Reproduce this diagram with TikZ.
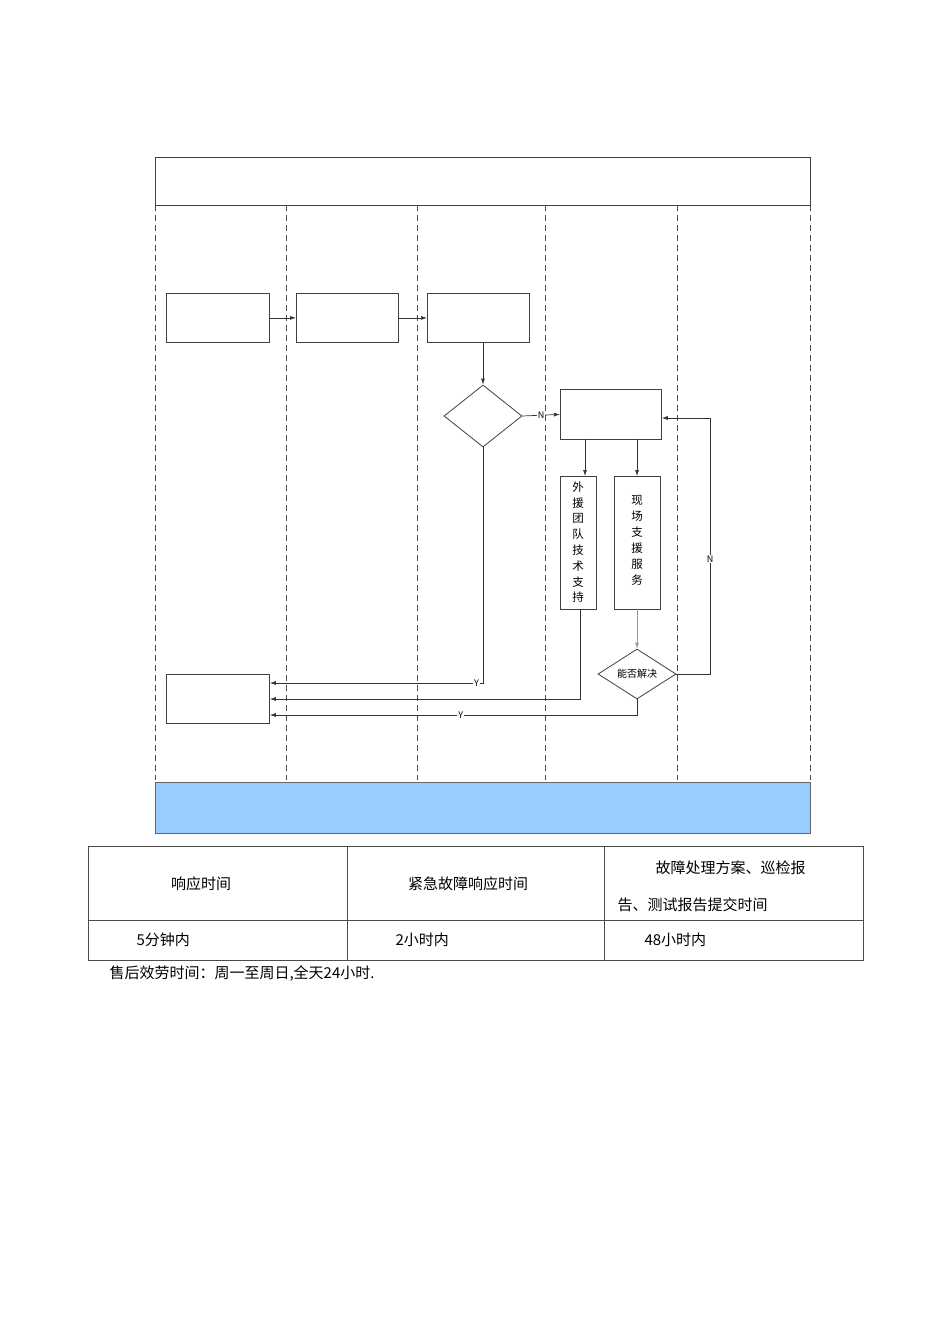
\documentclass[tikz,border=0pt]{standalone}
\usepackage{fontspec}
\setmainfont{Noto Sans CJK SC}
\usetikzlibrary{shapes.geometric,arrows.meta}
\begin{document}
\begin{tikzpicture}[x=1pt,y=-1pt,
  box/.style={draw=black!75,line width=0.8pt,minimum width=#1,inner sep=0pt},
  lane/.style={draw=black!70,dashed,dash pattern=on 6pt off 4pt,line width=0.8pt},
  con/.style={draw=black!80,line width=0.7pt,-{Latex[length=6pt,width=4pt]}},
  lbl/.style={font=\fontsize{9}{10}\selectfont,fill=white,inner sep=1pt},
  txt/.style={font=\fontsize{15}{18}\selectfont}]
\useasboundingbox (0,0) rectangle (950,1344);
\node[draw=black!75,line width=1pt,minimum width=655pt,minimum height=48pt,inner sep=0pt,anchor=north west] (title) at (155,157) {};
\foreach \x in {155,286,417,545,677,810} \draw[lane] (\x,205) -- (\x,780);
\node[draw=black!60,fill={rgb,255:red,153;green,204;blue,255},line width=1pt,minimum width=655pt,minimum height=51pt,inner sep=0pt,anchor=north west] (band) at (155,782) {};
\node[box=103pt,minimum height=49pt,anchor=north west] (a) at (166,293) {};
\node[box=102pt,minimum height=49pt,anchor=north west] (b) at (296,293) {};
\node[box=102pt,minimum height=49pt,anchor=north west] (c) at (427,293) {};
\node[draw=black!75,line width=0.8pt,diamond,minimum width=78pt,minimum height=62pt,inner sep=0pt] (d1) at (483,416) {};
\node[box=101pt,minimum height=50pt,anchor=north west] (e) at (560,389) {};
\node[box=36pt,minimum height=133pt,anchor=north west] (f) at (560,476) {};
\node[font=\fontsize{11.5}{15.8}\selectfont,align=center,anchor=north] at (578,478) {外\\援\\团\\队\\技\\术\\支\\持};
\node[box=46pt,minimum height=133pt,anchor=north west] (g) at (614,476) {};
\node[font=\fontsize{11.5}{16}\selectfont,align=center,anchor=north] at (637,492) {现\\场\\支\\援\\服\\务};
\node[draw=black!75,line width=0.8pt,diamond,minimum width=78pt,minimum height=50pt,inner sep=0pt,font=\fontsize{10}{11}\selectfont] (d2) at (637,674) {能否解决};
\node[box=103pt,minimum height=49pt,anchor=north west] (h) at (166,674) {};
\coordinate (gb) at (637,609);
\draw[con] (a.east) -- (b.west);
\draw[con] (b.east) -- (c.west);
\draw[con] (c.south -| d1.north) -- (d1.north);
\draw[con] (d1.east) -- node[lbl,pos=0.5]{N} (e.west);
\draw[con] (585,439) -- (585,476);
\draw[con] (637,439) -- (637,476);
\draw[con,draw=black!40] (gb) -- (d2.north);
\draw[con] (d1.south) -- (483,683) -- node[lbl,pos=0.03]{Y} (h.east |- 0,683);
\draw[con] (580,609) -- (580,699) -- (h.east |- 0,699);
\draw[con] (d2.south) -- (637,715) -- node[lbl,pos=0.48]{Y} (h.east |- 0,715);
\draw[con] (d2.east) -- (710,674) -- node[lbl,pos=0.45]{N} (710,418) -- (e.east |- 0,418);
% table
\draw[black!70,line width=0.7pt] (88,846) rectangle (863,960);
\draw[black!70,line width=0.7pt] (88,920) -- (863,920) (347,846) -- (347,960) (604,846) -- (604,960);
\node[txt] at (201,884) {响应时间};
\node[txt] at (468,884) {紧急故障响应时间};
\node[txt,anchor=west] at (652,868) {故障处理方案、巡检报};
\node[txt,anchor=west] at (614,905) {告、测试报告提交时间};
\node[txt,anchor=west] at (133,940) {5分钟内};
\node[txt,anchor=west] at (392,940) {2小时内};
\node[txt,anchor=west] at (641,940) {48小时内};
\node[txt,anchor=west] at (106,974) {售后效劳时间：周一至周日,全天24小时.};
\end{tikzpicture}
\end{document}
